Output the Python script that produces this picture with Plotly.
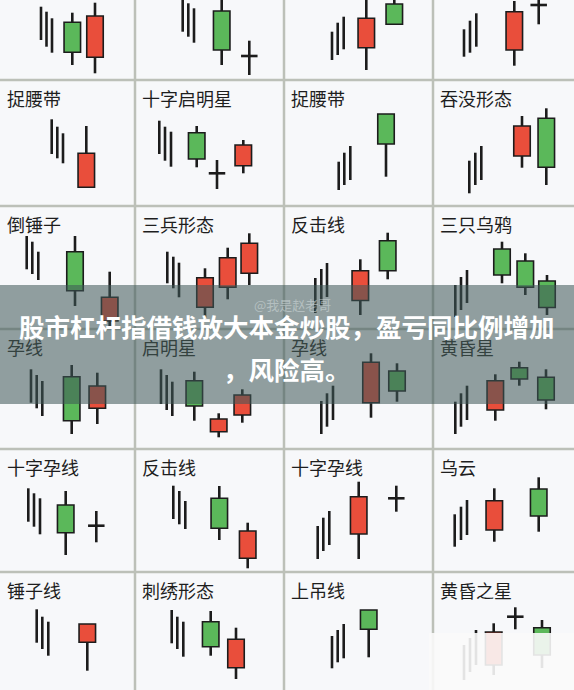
import plotly.graph_objects as go

W, H = 574, 690
COL_EDGES = [0, 135, 284, 433, 574]
ROW_EDGES = [0, 80, 206, 329, 449, 572, 690]

LABELS = [
    None, None, None, None,
    "捉腰带", "十字启明星", "捉腰带", "吞没形态",
    "倒锤子", "三兵形态", "反击线", "三只乌鸦",
    "孕线", "启明星", "孕线", "黄昏星",
    "十字孕线", "反击线", "十字孕线", "乌云",
    "锤子线", "刺绣形态", "上吊线", "黄昏之星",
]

# preceding-trend strokes per cell (position, top, bottom)
TREND_X = [
    [41, 46.5, 52], [47.7, 53.3, 59], [48, 53.7, 59.7], [31, 37, 43.3],
    [51.7, 57.3, 63], [24.3, 30, 36], [54.7, 60.3, 66.3], [36.3, 42.3, 48.3],
    [26.7, 32.3, 38.3], [32.3, 38.3, 44], [31.3, 37.3, 43], [22.3, 28, 34],
    [31, 36.7, 42.3], [26, 31.7, 37.3], [37.3, 43, 49], [22.3, 28, 34],
    [28.3, 34, 40], [38.3, 44.3, 50.3], [33.7, 39.3, 45.3], [21.7, 28, 34],
    [36.7, 42.3, 48.3], [36.7, 42.3, 48.3], [48, 53.7, 59.7], [31, 37, 43],
]
TREND_HIGH = [
    [73.3, 68.3, 61.7], [86, 76.7, 71.7], [48.3, 57.3, 63.3], [50.7, 59.3, 66.7],
    [86.7, 79.3, 72.7], [85.3, 79.3, 74.3], [44.3, 53.3, 60], [45.3, 53.3, 60],
    [93, 87.3, 77.3], [77.3, 72.3, 66.3], [51, 60, 66], [44, 52, 59],
    [79.7, 74, 68], [79.7, 74, 67.3], [48, 55.7, 63.3], [47.3, 55.7, 63.3],
    [83.7, 78.7, 73.7], [86.3, 81, 71], [46, 54.3, 61], [57.7, 65.3, 72],
    [80.7, 73.3, 68.3], [80, 73.3, 68.3], [54, 60, 66], [45, 52, 60],
]
TREND_LOW = [
    [40, 33.3, 27.3], [48.3, 43.3, 37.3], [20, 25, 30.7], [23.3, 27.3, 33.3],
    [52, 47.7, 42.7], [52, 45.3, 39.3], [16, 21, 26], [12.7, 21, 26],
    [59.7, 55, 49], [45.7, 40.7, 31.7], [16, 23, 32], [12, 19, 26],
    [46.3, 40.7, 33], [45, 39, 33], [15, 22.3, 29], [15, 22.3, 29],
    [50.3, 45.3, 37.7], [53, 47.7, 43], [13, 21, 27], [25.3, 32, 37],
    [47.3, 41, 34.3], [46.7, 41, 33.3], [21.7, 27.7, 31.7], [10, 18, 25],
]

# candles per cell
CANDLE_X = [
    [72.3, 95], [86.7, 114.3], [82.3, 110.3], [81.3, 105.7],
    [86.3], [61.7, 82, 108.3], [102], [89, 113.3],
    [75, 109.7], [70, 92.7, 114.3], [76.3, 103.7], [69, 92.3, 114],
    [71.7, 97.3], [59.3, 83.7, 107.3], [87, 113], [62.3, 86.3, 113],
    [65.7, 96.3], [84.3, 112.7], [74.7, 112.3], [61.3, 105.7],
    [87.3], [75.7, 101], [84.7], [60.7, 82.3, 109],
]
OPEN = [
    [57.7, 22.7], [69, 24], [32.3, 76], [30, 75],
    [18.7], [73.3, 32.7, 40.3], [92], [50, 87.7],
    [77.3, 8], [21.7, 41.7, 55.7], [28.5, 88.3], [80, 68, 48],
    [72.3, 40.7], [68.3, 17.3, 34], [46.3, 78], [39, 81.3, 71.7],
    [67, 46.3], [73.7, 13.7], [38, 73.7], [42, 83],
    [47.7], [68.3, 22.3], [80], [25, 73.3, 62.3],
]
HIGH = [
    [67.3, 77.3], [92, 39.3], [92, 90], [79, 95],
    [80], [80, 46, 66], [92], [90, 97.7],
    [93, 57.3], [60.7, 81.3, 95.7], [69.7, 96.3], [87.3, 75.7, 54],
    [84, 76.3], [77.3, 35.7, 59.7], [95.7, 85.7], [74.7, 87.3, 79.7],
    [81, 61], [86, 49.3], [90.3, 86.3], [83.7, 94.7],
    [66], [79, 62.3], [80], [66.7, 82.7, 70],
]
LOW = [
    [15, 6.7], [15, 5], [10, 55.7], [14.3, 55.7],
    [18.7], [38.7, 17, 32.7], [29.3], [38.3, 21],
    [23, 2], [11, 29.7, 44], [14, 49.7], [45.7, 34, 14],
    [15, 25], [28.3, 11.7, 26.3], [31.3, 47.3], [28.3, 63.3, 39.7],
    [17, 29.7], [32, 3.7], [13, 60.3], [30.3, 40.3],
    [19.3], [34.3, 11], [32.7], [15, 60.7, 22],
]
CLOSE = [
    [27.7, 64], [30, 24], [61.7, 55.7], [68.3, 75],
    [52.7], [47, 32.7, 61], [62], [80, 38.7],
    [38.3, 31.7], [51.3, 71.3, 85.7], [58.3, 58.3], [54, 41.7, 21.5],
    [28.3, 63], [43, 30, 54], [86.7, 58], [68.3, 70, 49],
    [39.3, 46.3], [43.7, 41], [75.3, 73.7], [71.3, 56],
    [66], [43.3, 50.7], [60.7], [58, 73.3, 35],
]

RED = "#e94e3b"
GREEN = "#5bb85a"
INK = "#1c1c1c"
BODY_W = 16.5
BG = "#f7f8fa"

fig = go.Figure()
layout_axes = {}

for i in range(24):
    r, c = divmod(i, 4)
    k = i + 1
    xa = "x" if k == 1 else f"x{k}"
    ya = "y" if k == 1 else f"y{k}"
    x0, x1 = COL_EDGES[c], COL_EDGES[c + 1]
    y0, y1 = ROW_EDGES[r], ROW_EDGES[r + 1]
    cw, ch = x1 - x0, y1 - y0
    layout_axes["xaxis" if k == 1 else f"xaxis{k}"] = dict(
        domain=[x0 / W, x1 / W], range=[0, cw], visible=False,
        fixedrange=True, anchor=ya)
    layout_axes["yaxis" if k == 1 else f"yaxis{k}"] = dict(
        domain=[1 - y1 / H, 1 - y0 / H], range=[0, ch], visible=False,
        fixedrange=True, anchor=xa)

    # trend strokes
    tx, ty = [], []
    for px, hi, lo in zip(TREND_X[i], TREND_HIGH[i], TREND_LOW[i]):
        tx += [px, px, None]
        ty += [lo, hi, None]
    fig.add_trace(go.Scatter(x=tx, y=ty, mode="lines", xaxis=xa, yaxis=ya,
                             line=dict(color=INK, width=2.6), hoverinfo="skip",
                             showlegend=False))

    # bodies
    bx, bbase, bh, bcol = [], [], [], []
    wx, wy, dx, dy = [], [], [], []
    for px, o, h, l, cl in zip(CANDLE_X[i], OPEN[i], HIGH[i], LOW[i], CLOSE[i]):
        top, bot = max(o, cl), min(o, cl)
        if cl != o:
            bx.append(px)
            bbase.append(bot)
            bh.append(top - bot)
            bcol.append(RED if cl > o else GREEN)
        else:
            dx += [px - BODY_W / 2, px + BODY_W / 2, None]
            dy += [o, o, None]
        if h > top:
            wx += [px, px, None]
            wy += [top, h, None]
        if l < bot:
            wx += [px, px, None]
            wy += [l, bot, None]
    if bx:
        fig.add_trace(go.Bar(x=bx, y=bh, base=bbase, width=BODY_W, xaxis=xa,
                             yaxis=ya, marker=dict(color=bcol,
                                                   line=dict(color=INK, width=1.6)),
                             hoverinfo="skip", showlegend=False))
    fig.add_trace(go.Scatter(x=wx + dx, y=wy + dy, mode="lines", xaxis=xa,
                             yaxis=ya, line=dict(color=INK, width=2.6),
                             hoverinfo="skip", showlegend=False))

shapes = []
GRID = "#bcc0b8"
for gx in COL_EDGES[1:-1]:
    shapes.append(dict(type="line", xref="paper", yref="paper", x0=gx / W,
                       x1=gx / W, y0=0, y1=1, line=dict(color=GRID, width=2.5),
                       layer="above"))
for gy in ROW_EDGES[1:-1]:
    shapes.append(dict(type="line", xref="paper", yref="paper", x0=0, x1=1,
                       y0=1 - gy / H, y1=1 - gy / H,
                       line=dict(color=GRID, width=2.5), layer="above"))
# caption banner
shapes.append(dict(type="rect", xref="paper", yref="paper", x0=0, x1=1,
                   y0=1 - 404 / H, y1=1 - 285 / H, line=dict(width=0),
                   fillcolor="rgba(62,88,88,0.56)", layer="above"))
# blurred watermark patch
shapes.append(dict(type="rect", xref="paper", yref="paper", x0=429 / W, x1=1,
                   y0=0, y1=1 - 633 / H, line=dict(width=0),
                   fillcolor="rgba(250,250,250,0.9)", layer="above"))

annotations = []
for i, lab in enumerate(LABELS):
    if not lab:
        continue
    r, c = divmod(i, 4)
    col = "#34423f" if r == 3 else "#1e1e1e"
    annotations.append(dict(text=lab, xref="paper", yref="paper",
                            x=(COL_EDGES[c] + 5) / W,
                            y=1 - (ROW_EDGES[r] + 18) / H,
                            xanchor="left", yanchor="middle", showarrow=False,
                            font=dict(family="Noto Sans CJK SC", size=18,
                                      color=col)))

annotations.append(dict(text="@我是赵老哥", xref="paper", yref="paper",
                        x=292 / W, y=1 - 304 / H, xanchor="center",
                        yanchor="middle", showarrow=False,
                        font=dict(family="Noto Sans CJK SC", size=13,
                                  color="rgba(205,215,215,0.6)")))
annotations.append(dict(text="<b>股市杠杆指借钱放大本金炒股，盈亏同比例增加</b>",
                        xref="paper", yref="paper", x=0.5, y=1 - 325 / H,
                        xanchor="center", yanchor="middle", showarrow=False,
                        font=dict(family="Noto Sans CJK SC", size=25.5,
                                  color="white")))
annotations.append(dict(text="<b>，风险高。</b>", xref="paper", yref="paper",
                        x=0.5, y=1 - 368 / H, xanchor="center",
                        yanchor="middle", showarrow=False,
                        font=dict(family="Noto Sans CJK SC", size=25.5,
                                  color="white")))

fig.update_layout(width=W, height=H, margin=dict(l=0, r=0, t=0, b=0),
                  paper_bgcolor=BG, plot_bgcolor="rgba(0,0,0,0)",
                  showlegend=False, shapes=shapes, annotations=annotations,
                  **layout_axes)

fig.write_html("out.html", config={"displayModeBar": False},
               post_script="document.body.style.margin='0';"
                           "document.body.style.overflow='hidden';")
